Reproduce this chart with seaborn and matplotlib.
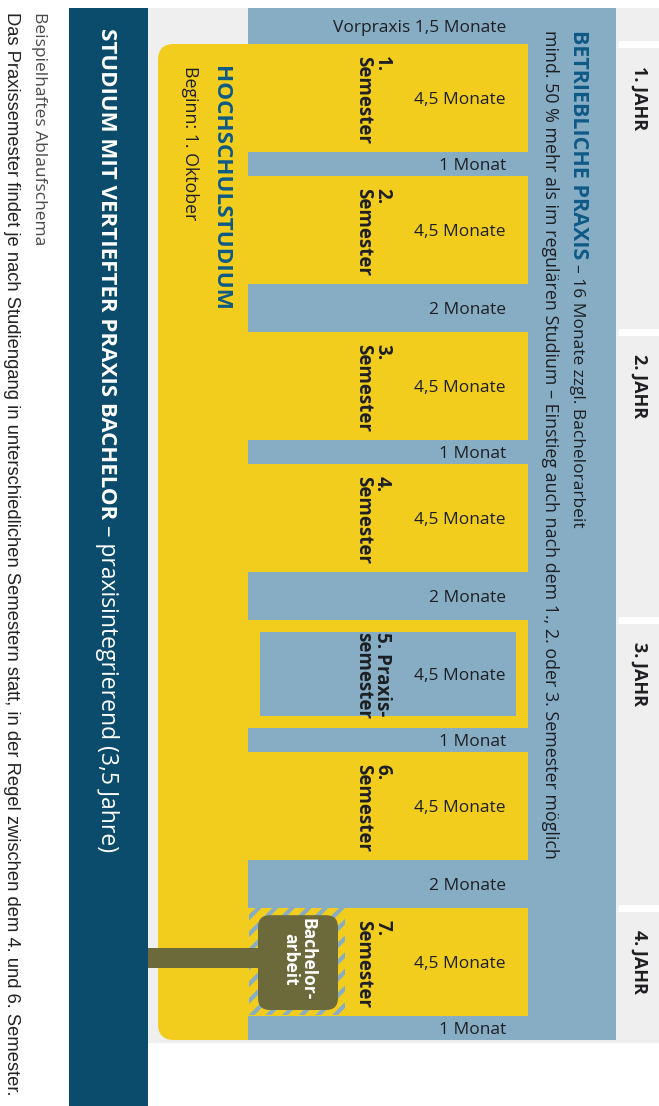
import matplotlib
matplotlib.use("Agg")
import matplotlib.pyplot as plt
import seaborn as sns
import numpy as np
from matplotlib.patches import FancyBboxPatch, Rectangle

sns.set_theme(style="white")
plt.rcParams['font.family'] = ['Open Sans', 'DejaVu Sans']
plt.rcParams['hatch.linewidth'] = 3.0

# ---------------- data ----------------
segments = ["Vorpraxis", "1. Semester", "Praxis", "2. Semester", "Praxis",
            "3. Semester", "Praxis", "4. Semester", "Praxis", "5. Praxissemester",
            "Praxis", "6. Semester", "Praxis", "7. Semester", "Praxis"]
durations = [1.5, 4.5, 1, 4.5, 2, 4.5, 1, 4.5, 2, 4.5, 1, 4.5, 2, 4.5, 1]
kinds = ["praxis", "semester", "praxis", "semester", "praxis", "semester", "praxis",
         "semester", "praxis", "praxissemester", "praxis", "semester", "praxis",
         "bachelor", "praxis"]
duration_labels = ["Vorpraxis 1,5 Monate", "4,5 Monate", "1 Monat", "4,5 Monate",
                   "2 Monate", "4,5 Monate", "1 Monat", "4,5 Monate", "2 Monate",
                   "4,5 Monate", "1 Monat", "4,5 Monate", "2 Monate", "4,5 Monate",
                   "1 Monat"]
semester_labels = ["", "1.\nSemester", "", "2.\nSemester", "", "3.\nSemester", "",
                   "4.\nSemester", "", "5. Praxis-\nsemester", "", "6.\nSemester", "",
                   "7.\nSemester", ""]
years = ["1. JAHR", "2. JAHR", "3. JAHR", "4. JAHR"]
year_starts = [1.5, 13.5, 25.5, 37.5]

# ---------------- style ----------------
BLUE = "#87adc5"
YELLOW = "#f2cd1d"
DARK = "#0b4c6c"
GRAY = "#efefef"
OLIVE = "#6c6a3b"
TITLE = "#0e5a86"
TXT = "#1d1f22"

W, H = 659, 1106
PX = 24.0          # pixels per month
T0 = 8.0           # pixel offset of month 0

fig = plt.figure(figsize=(W / 100, H / 100), dpi=100)
ax = fig.add_axes([0, 0, 1, 1])
ax.set_xlim(0, W)
ax.set_ylim((H - T0) / PX, -T0 / PX)
ax.axis("off")

starts = np.concatenate([[0], np.cumsum(durations)[:-1]])
ends = starts + np.array(durations)
total = ends[-1]
MA = 1.0 / PX  # mutation aspect


def rbox(x0, t0, w, h, r, color, z):
    p = FancyBboxPatch((x0, t0), w, h, boxstyle=f"round,pad=0,rounding_size={r}",
                       mutation_aspect=MA, facecolor=color, edgecolor="none", zorder=z)
    ax.add_patch(p)


# background
ax.add_patch(Rectangle((148, 0), W - 148, total + 3 / PX, facecolor=GRAY,
                       edgecolor="none", zorder=0))
# dark side bar
ax.add_patch(Rectangle((69, 0), 79, (H - T0) / PX + 1, facecolor=DARK,
                       edgecolor="none", zorder=1))

# year column separators
ax.hlines(year_starts, 618, W, color="white", lw=5, zorder=1)

# blue practice box
rbox(248, 0, 368, total, 20, BLUE, 2)
ax.add_patch(Rectangle((248, 0), 40, total, facecolor=BLUE, edgecolor="none", zorder=2))

# practice segments
for s, d, k in zip(starts, durations, kinds):
    if k == "praxis":
        ax.bar(432, d, bottom=s, width=368, color=BLUE, edgecolor="none", zorder=2)

# yellow university column
study_start = durations[0]
rbox(158, study_start, 90, total - study_start, 16, YELLOW, 3)
ax.add_patch(Rectangle((210, study_start), 38, total - study_start,
                       facecolor=YELLOW, edgecolor="none", zorder=3))

# semesters
for s, d, k in zip(starts, durations, kinds):
    if k in ("semester", "praxissemester", "bachelor"):
        ax.bar(388, d, bottom=s, width=280, color=YELLOW, edgecolor="none", zorder=3)
    if k == "praxissemester":
        ax.bar(388, d - 1.0, bottom=s + 0.5, width=256, color=BLUE,
               edgecolor="none", zorder=4)
    if k == "bachelor":
        ax.bar(297, d - 0.05, bottom=s, width=96, color=YELLOW, edgecolor=BLUE,
               hatch="//", linewidth=0, zorder=4)
        rbox(258, s + 0.3, 80, d - 0.55, 12, OLIVE, 5)
        mid = s + d / 2 - 0.15
        ax.add_patch(Rectangle((148, mid - 0.42), 112, 0.84, facecolor=OLIVE,
                               edgecolor="none", zorder=5))
        ax.text(299, mid + 0.05, "Bachelor-\narbeit", rotation=-90, rotation_mode="anchor",
                ha="center", va="center", fontsize=12.5, fontweight="bold",
                color="white", linespacing=0.9, zorder=6)

# duration labels (horizontal)
for s, d, lab in zip(starts, durations, duration_labels):
    ax.text(506, s + d / 2, lab, ha="right", va="center_baseline", fontsize=12.5,
            color=TXT, zorder=7)

# semester labels (rotated)
for s, d, lab in zip(starts, durations, semester_labels):
    if lab:
        ax.text(392, s + 0.5, lab, rotation=-90, rotation_mode="anchor",
                ha="left", va="top", fontsize=13.5, fontweight="bold",
                color=TXT, linespacing=0.9, zorder=7)

# year labels
for ys, yl in zip(year_starts, years):
    ax.text(648, ys + 0.9, yl, rotation=-90, rotation_mode="anchor", ha="left",
            va="top", fontsize=13, fontweight="bold", color=TXT, zorder=7)


def two_part(xb, tpix, bold, regular, size, c1, c2, size2=None, gap=4):
    t1 = ax.text(xb, (tpix - T0) / PX, bold, rotation=-90, rotation_mode="anchor",
                 ha="left", va="baseline", fontsize=size, fontweight="bold",
                 color=c1, zorder=8)
    fig.canvas.draw()
    bb = t1.get_window_extent()
    _, tend = ax.transData.inverted().transform((0, bb.y0))
    ax.text(xb, tend + gap / PX, regular, rotation=-90, rotation_mode="anchor",
            ha="left", va="baseline", fontsize=size2 or size, color=c2, zorder=8)


def rtext(xb, tpix, s, size, color, weight="normal", family=None):
    kw = {}
    if family:
        kw["family"] = family
    ax.text(xb, (tpix - T0) / PX, s, rotation=-90, rotation_mode="anchor",
            ha="left", va="baseline", fontsize=size, color=color,
            fontweight=weight, zorder=8, **kw)


two_part(573, 30, "BETRIEBLICHE PRAXIS", "– 16 Monate zzgl. Bachelorarbeit",
         15.5, TITLE, TXT, size2=12.5, gap=5)
rtext(545, 30, "mind. 50 % mehr als im regulären Studium – Einstieg auch nach dem 1., 2. "
      "oder 3. Semester möglich", 12.9, TXT)
rtext(215, 66, "HOCHSCHULSTUDIUM", 16.2, TITLE, weight="bold")
rtext(185, 66, "Beginn: 1. Oktober", 12.8, TXT)
two_part(101, 28, "STUDIUM MIT VERTIEFTER PRAXIS BACHELOR",
         "– praxisintegrierend (3,5 Jahre)", 16, "white", "white", size2=16.5, gap=6)
rtext(35, 12, "Beispielhaftes Ablaufschema", 12.5, "#4a4a4a")
rtext(7, 12, "Das Praxissemester findet je nach Studiengang in unterschiedlichen "
      "Semestern statt, in der Regel zwischen dem 4. und 6. Semester.", 13.2, "#222222",
      family=["Liberation Sans", "DejaVu Sans"])

fig.savefig("out.png", dpi=100)
